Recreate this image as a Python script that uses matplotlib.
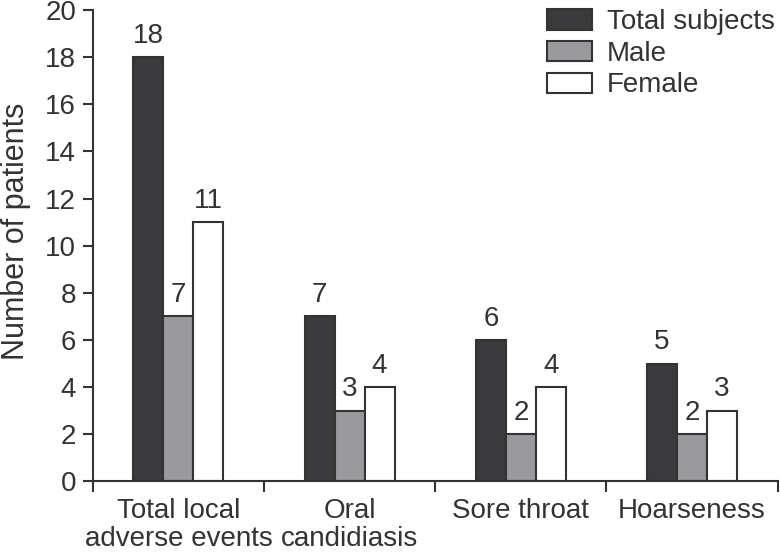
import matplotlib
matplotlib.use("Agg")
import matplotlib.pyplot as plt
import numpy as np

categories = ["Total local\nadverse events", "Oral\ncandidiasis", "Sore throat", "Hoarseness"]
series_names = ["Total subjects", "Male", "Female"]
total = [18, 7, 6, 5]
male = [7, 3, 2, 2]
female = [11, 4, 4, 3]
yticks = [0, 2, 4, 6, 8, 10, 12, 14, 16, 18, 20]

plt.rcParams['font.family'] = ['Liberation Sans', 'DejaVu Sans']
txt = '#333333'
fs = 20

fig = plt.figure(figsize=(7.8, 5.54), dpi=100)
ax = fig.add_axes([0.119, 0.131, 0.878, 0.851])

x = np.arange(len(categories))
w = 0.175
colors = ['#3a3a3c', '#9a9a9e', '#ffffff']
edge = '#333333'
for i, (vals, name, c) in enumerate(zip([total, male, female], series_names, colors)):
    bars = ax.bar(x + (i - 1) * w, vals, w, color=c, edgecolor=edge, linewidth=1.5, label=name)
    for b, v in zip(bars, vals):
        ax.text(b.get_x() + b.get_width() / 2, v + 0.35, str(v), ha='center', va='bottom',
                fontsize=fs, color=txt)

ax.set_xlim(-0.5, 3.5)
ax.set_ylim(0, 20)
ax.set_yticks(yticks)
ax.set_xticks([-0.5, 0.5, 1.5, 2.5, 3.5])
ax.set_xticklabels([])
ax.set_xticks(x, minor=True)
ax.set_xticklabels(categories, minor=True, fontsize=fs, color=txt, linespacing=1.12)
ax.tick_params(axis='x', which='minor', length=0, pad=12)
ax.tick_params(axis='x', which='major', length=8, width=1.5, color=edge)
ax.tick_params(axis='y', length=7, width=1.5, color=edge, labelsize=fs, labelcolor=txt, pad=5)
for s in ['top', 'right']:
    ax.spines[s].set_visible(False)
for s in ['left', 'bottom']:
    ax.spines[s].set_linewidth(1.5)
    ax.spines[s].set_color(edge)
ax.set_ylabel('Number of patients', fontsize=22, color=txt)
ax.yaxis.set_label_coords(-0.09, 0.53)

leg = ax.legend(loc='upper right', bbox_to_anchor=(1.012, 1.025), frameon=False, fontsize=fs,
                handlelength=1.6, handleheight=0.75, labelspacing=0.2, handletextpad=0.55,
                borderaxespad=0.0)
for t in leg.get_texts():
    t.set_color(txt)

fig.savefig('out.png', dpi=100)
